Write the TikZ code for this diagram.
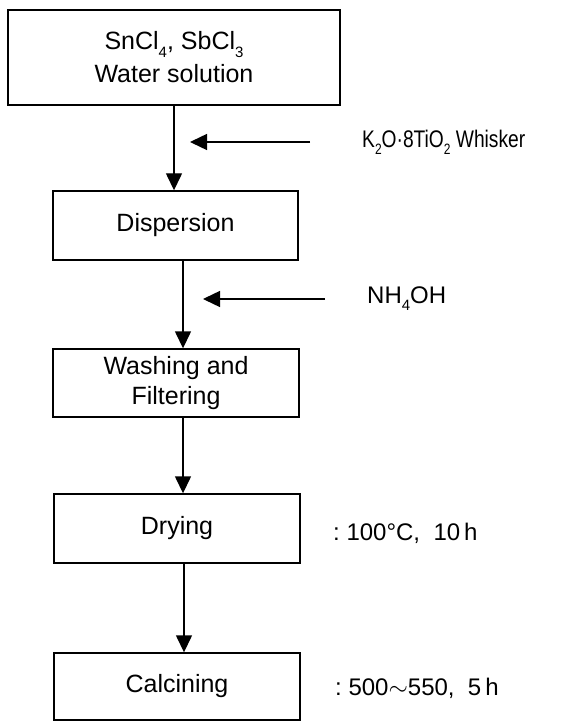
\documentclass[tikz,border=0pt]{standalone}
\usepackage{fontspec}
\usepackage{graphicx}
\setmainfont{Liberation Sans}
\usetikzlibrary{arrows.meta}
% chemical subscript: set low and fairly large
\newcommand\sbs[1]{\raisebox{-0.3em}{\fontsize{15}{15}\selectfont #1}}
\begin{document}
\begin{tikzpicture}[x=1pt,y=-1pt,
  stepbox/.style={draw,line width=1.4pt,minimum width=246pt,minimum height=69pt,
    inner sep=0pt,align=center,font=\fontsize{25}{31}\selectfont},
  flow/.style={line width=1.4pt,-{Triangle[length=17pt,width=16pt]}},
  note/.style={anchor=west,inner sep=0pt,font=\fontsize{24}{28}\selectfont}]
\useasboundingbox (0,0) rectangle (567,722);
% process steps
\node[stepbox,minimum width=332pt,minimum height=95pt,font=\fontsize{25}{33}\selectfont]
  (src) at (174,57.5) {SnCl\sbs{4}, SbCl\sbs{3}\\Water solution};
\node[stepbox,minimum width=245pt] (disp) at (175.5,225.5) {Dispersion};
\node[stepbox,minimum height=68pt,font=\fontsize{25}{30}\selectfont] (wash) at (176,383) {Washing and\\Filtering};
\node[stepbox] (dry) at (177,528.5) {Drying};
\node[stepbox,minimum height=67pt] (calc) at (177,686.5) {Calcining};
% columns of the vertical connectors
\coordinate (c1) at (174,0);
\coordinate (c2) at (183,0);
\coordinate (c3) at (184,0);
\draw[flow] (src.south -| c1) -- (disp.north -| c1);
\draw[flow] (disp.south -| c2) -- (wash.north -| c2);
\draw[flow] (wash.south -| c2) -- (dry.north -| c2);
\draw[flow] (dry.south -| c3) -- (calc.north -| c3);
% added materials
\coordinate (w1) at (310,142);
\coordinate (w2) at (190,142);
\draw[flow] (w1) -- (w2);
\node[note] (whisker) at (362,142) {\scalebox{0.8}[1]{K\sbs{2}O·8TiO\sbs{2} Whisker}};
\coordinate (n1) at (325,299);
\coordinate (n2) at (203,299);
\draw[flow] (n1) -- (n2);
\node[note] (nh) at (367,299) {NH\sbs{4}OH};
% process conditions
\node[note] (dcond) at (333,533) {:\ 100°C,\ \ 10\,h};
\node[note] (ccond) at (335,688) {:\ 500{\fontsize{30}{30}\selectfont$\sim$}550,\ \ 5\,h};
\end{tikzpicture}
\end{document}
